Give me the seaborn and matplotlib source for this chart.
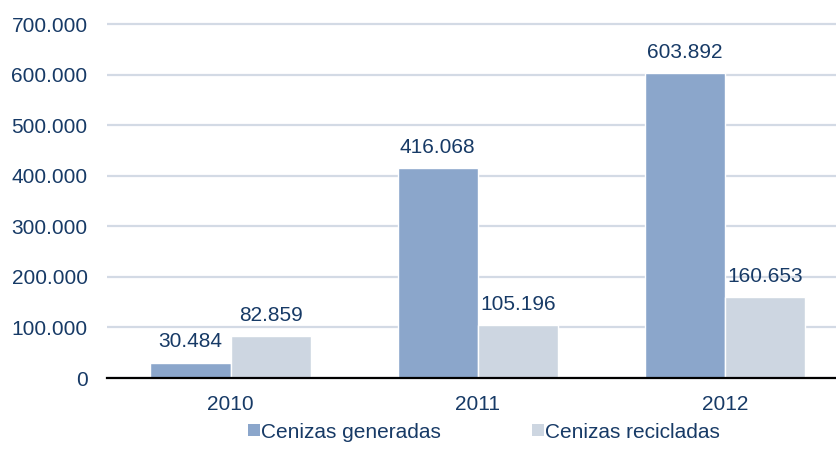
import matplotlib
matplotlib.use("Agg")
import matplotlib.pyplot as plt
import seaborn as sns
import pandas as pd
from matplotlib.ticker import FuncFormatter, MultipleLocator
from matplotlib.patches import Patch

years = ["2010", "2011", "2012"]
generadas = [30484, 416068, 603892]
recicladas = [82859, 105196, 160653]
series = ["Cenizas generadas", "Cenizas recicladas"]
colors = ["#8BA6CB", "#CDD6E1"]
txt = "#173A66"

df = pd.DataFrame({
    "year": years * 2,
    "value": generadas + recicladas,
    "serie": [series[0]] * 3 + [series[1]] * 3,
})

sns.set_style("white")
plt.rcParams["font.family"] = ["Liberation Sans", "DejaVu Sans"]

fig = plt.figure(figsize=(8.36, 4.70), dpi=100)
ax = fig.add_axes([107 / 836, 92 / 470, (836 - 107) / 836, 364 / 470])

sns.barplot(data=df, x="year", y="value", hue="serie", palette=colors,
            width=0.648, gap=0, saturation=1, legend=False, ax=ax)

ax.set_xlim(-0.5, 2.45)
ax.set_ylim(0, 720000)
ax.yaxis.set_major_locator(MultipleLocator(100000))
ax.yaxis.set_major_formatter(FuncFormatter(lambda v, p: f"{int(v):,}".replace(",", ".")))
ax.grid(axis="y", color="#D3DAE5", linewidth=1.6)
ax.set_axisbelow(True)
for s in ["top", "right", "left"]:
    ax.spines[s].set_visible(False)
ax.spines["bottom"].set_color("black")
ax.spines["bottom"].set_linewidth(1.6)
ax.set_xlabel("")
ax.set_ylabel("")
ax.tick_params(axis="y", length=0, pad=14, labelsize=15, labelcolor=txt)
ax.tick_params(axis="x", length=0, pad=12, labelsize=15, labelcolor=txt)

for cont in ax.containers:
    for bar in cont:
        h = bar.get_height()
        ax.annotate(f"{int(h):,}".replace(",", "."),
                    (bar.get_x() + bar.get_width() / 2, h),
                    xytext=(0, 8), textcoords="offset points",
                    ha="center", va="bottom", fontsize=15, color=txt)

handles = [Patch(facecolor=c, edgecolor="none") for c in colors]
fig.legend(handles, series, loc="center", bbox_to_anchor=(484 / 836, 1 - 432 / 470),
           ncol=2, frameon=False, fontsize=15, labelcolor=txt,
           handlelength=0.55, handleheight=0.55, handletextpad=0.05, columnspacing=4.4)

fig.savefig("out.png", dpi=100)
